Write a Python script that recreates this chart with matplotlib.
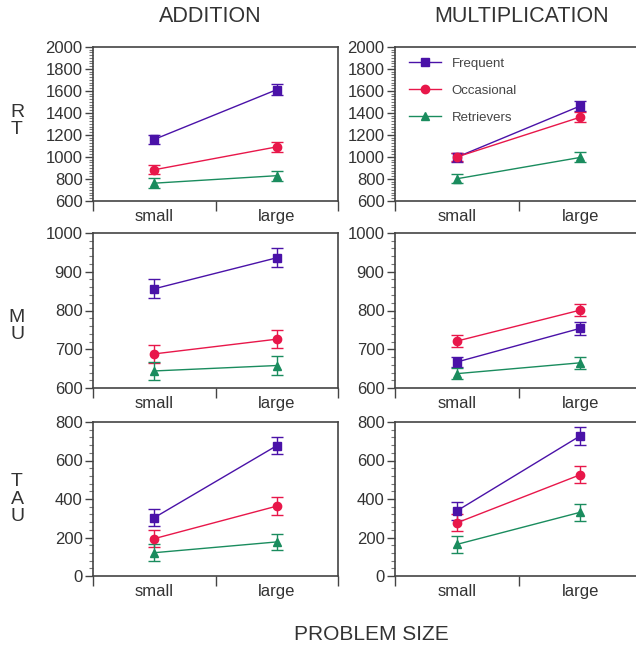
import numpy as np
import matplotlib
matplotlib.use('Agg')
import matplotlib.pyplot as plt
from matplotlib.ticker import MultipleLocator, FixedLocator

plt.rcParams['font.family'] = ['Liberation Sans', 'DejaVu Sans']

# data
sizes = ['small', 'large']
groups = ['Frequent', 'Occasional', 'Retrievers']
colors = ['#4a12a8', '#e8174a', '#1a8c5e']
markers = ['s', 'o', '^']

# addition
add_rt = [[1160, 1612], [884, 1092], [762, 830]]
add_rt_err = [[43, 48], [40, 48], [48, 45]]
add_mu = [[856, 936], [688, 726], [644, 658]]
add_mu_err = [[25, 25], [23, 24], [24, 24]]
add_tau = [[303, 677], [194, 363], [121, 177]]
add_tau_err = [[45, 45], [45, 45], [45, 43]]

# multiplication
mul_rt = [[998, 1464], [1000, 1362], [802, 996]]
mul_rt_err = [[42, 46], [40, 45], [42, 45]]
mul_mu = [[667, 754], [721, 801], [637, 665]]
mul_mu_err = [[14, 16], [16, 16], [14, 15]]
mul_tau = [[338, 728], [276, 526], [164, 331]]
mul_tau_err = [[45, 45], [44, 45], [45, 45]]

row_names = ['R\nT', 'M\nU', 'T\nA\nU']
ylims = [(600, 2000), (600, 1000), (0, 800)]
ysteps = [(200, 25), (100, 20), (200, 40)]

W, H = 636, 648
fig = plt.figure(figsize=(W / 100, H / 100), dpi=100)

col_x = [(93, 245), (395, 247)]
row_y = [(47, 201), (233, 388), (422, 576)]

data = [
    [(add_rt, add_rt_err), (mul_rt, mul_rt_err)],
    [(add_mu, add_mu_err), (mul_mu, mul_mu_err)],
    [(add_tau, add_tau_err), (mul_tau, mul_tau_err)],
]

txt = '#333333'
spine = '#444444'
xpos = np.array([1, 2])

for r in range(3):
    for c in range(2):
        x0, w = col_x[c]
        top, bot = row_y[r]
        ax = fig.add_axes([x0 / W, 1 - bot / H, w / W, (bot - top) / H])
        vals, errs = data[r][c]
        handles = []
        for g in range(3):
            eb = ax.errorbar(xpos, vals[g], yerr=errs[g], color=colors[g],
                             marker=markers[g], markersize=6, lw=1.0,
                             elinewidth=1.0, capsize=4, capthick=1.0)
            handles.append(eb.lines[0])
        ax.set_xlim(0.5, 2.5)
        ax.set_ylim(*ylims[r])
        ax.yaxis.set_major_locator(MultipleLocator(ysteps[r][0]))
        ax.yaxis.set_minor_locator(MultipleLocator(ysteps[r][1]))
        ax.xaxis.set_major_locator(FixedLocator([1, 2]))
        ax.xaxis.set_minor_locator(FixedLocator([0.5, 1.5, 2.5]))
        ax.set_xticklabels(sizes)
        ax.tick_params(axis='x', which='major', length=0, pad=6,
                       labelsize=12, labelcolor=txt)
        ax.tick_params(axis='x', which='minor', length=7, width=1,
                       color=spine)
        ax.tick_params(axis='y', which='major', length=6, width=1,
                       color=spine, pad=1.5, labelsize=12, labelcolor=txt)
        ax.tick_params(axis='y', which='minor', length=3, width=0.8,
                       color='#777777')
        for s in ax.spines.values():
            s.set_color(spine)
            s.set_linewidth(1.2)
        if r == 0 and c == 1:
            ax.legend(handles, groups, loc='upper left', frameon=False,
                      fontsize=9.5, handlelength=2.4, labelspacing=1.1,
                      borderaxespad=0.3, handletextpad=0.8,
                      labelcolor='#444444', bbox_to_anchor=(0.02, 0.99))

fig.text(210 / W, 1 - 17 / H, 'ADDITION', ha='center', va='center',
         fontsize=15.5, color=txt)
fig.text(522 / W, 1 - 17 / H, 'MULTIPLICATION', ha='center', va='center',
         fontsize=15.5, color=txt)
fig.text(371 / W, 1 - 635 / H, 'PROBLEM SIZE', ha='center', va='center',
         fontsize=15, color=txt)

label_y = [121, 326, 499]
for r in range(3):
    fig.text(17 / W, 1 - label_y[r] / H, row_names[r], ha='center',
             va='center', fontsize=14, color=txt, linespacing=1.05)

fig.savefig('out.png', dpi=100)
